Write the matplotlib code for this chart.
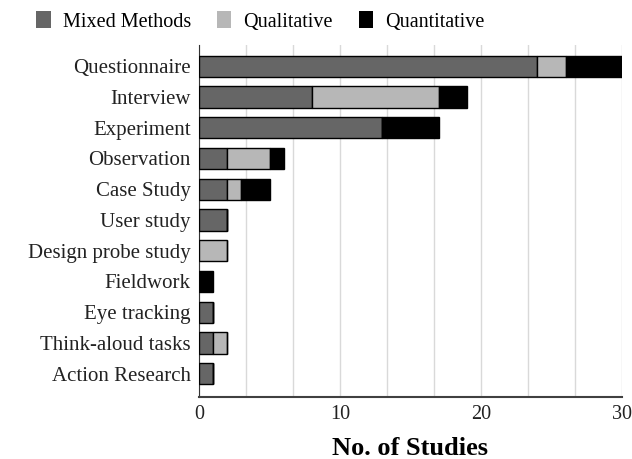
import numpy as np
import matplotlib
matplotlib.use("Agg")
import matplotlib.pyplot as plt
from matplotlib.patches import Patch

plt.rcParams['font.family'] = ['Liberation Serif', 'DejaVu Serif']

# Datos
methods = ["Questionnaire", "Interview", "Experiment", "Observation", "Case Study",
           "User study", "Design probe study", "Fieldwork", "Eye tracking",
           "Think-aloud tasks", "Action Research"]
mixed = [24, 8, 13, 2, 2, 2, 0, 0, 1, 1, 1]
qualitative = [2, 9, 0, 3, 1, 0, 2, 0, 0, 1, 0]
quantitative = [4, 2, 4, 1, 2, 0, 0, 1, 0, 0, 0]

series = ["Mixed Methods", "Qualitative", "Quantitative"]
colores = ["#666666", "#b7b7b7", "#000000"]

fig = plt.figure(figsize=(6.32, 4.59), dpi=100)
ax = fig.add_axes([0.315, 0.135, 0.669, 0.767])

y = np.arange(len(methods))
left = np.zeros(len(methods))
for vals, c in zip([mixed, qualitative, quantitative], colores):
    vals = np.array(vals, dtype=float)
    ax.barh(y, vals, left=left, height=0.69, color=c, edgecolor="black",
            linewidth=1.0, zorder=3)
    left += vals

ax.set_ylim(len(methods) - 0.24, -0.69)
ax.set_xlim(0, 30)
ax.set_yticks(y)
ax.set_yticklabels(methods, fontsize=15)
ax.set_xticks([0, 10, 20, 30])
ax.set_xticks(np.arange(0, 30.01, 10 / 3), minor=True)
ax.tick_params(axis="both", which="both", length=0, colors="#222222")
ax.tick_params(axis="x", labelsize=14.5, pad=6)
ax.tick_params(axis="y", pad=6)
ax.grid(axis="x", which="both", color="#d9d9d9", linewidth=1.0, zorder=0)

for s in ["top", "right"]:
    ax.spines[s].set_visible(False)
ax.spines["left"].set_color("#333333")
ax.spines["bottom"].set_color("#404040")
ax.spines["bottom"].set_linewidth(1.5)

ax.set_xlabel("No. of Studies", fontsize=19, fontweight="bold", labelpad=9)

handles = [Patch(facecolor=c, edgecolor="none") for c in colores]
fig.legend(handles, series, loc="upper left", bbox_to_anchor=(0.045, 0.993),
           ncol=3, frameon=False, fontsize=14.5, handlelength=0.7, handleheight=0.9,
           columnspacing=1.3, handletextpad=0.6, borderaxespad=0)

fig.savefig("out.png", dpi=100)
